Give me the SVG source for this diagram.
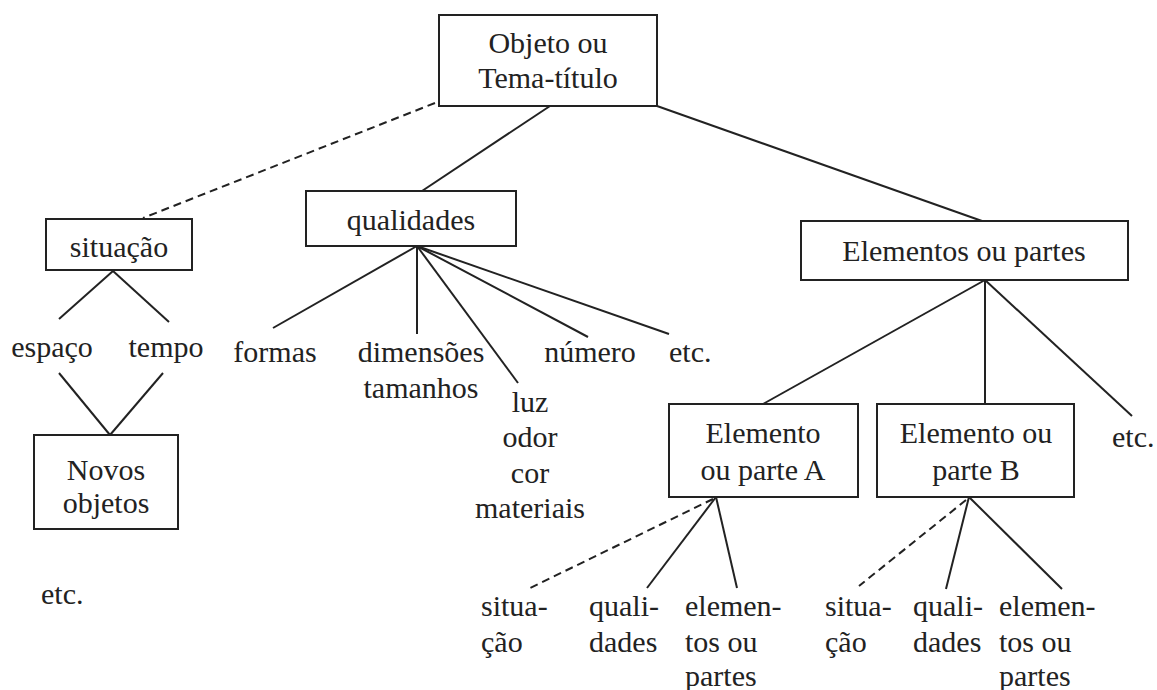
<svg xmlns="http://www.w3.org/2000/svg" width="1157" height="690" viewBox="0 0 1157 690">
<style>
  .box { fill: #ffffff; stroke: #222; stroke-width: 2; }
  .ln { stroke: #222; stroke-width: 2; fill: none; }
  .dash { stroke: #222; stroke-width: 2; fill: none; stroke-dasharray: 8 5; }
  .t { font-family: "Liberation Serif", Tinos, "Noto Serif", FreeSerif, "Nimbus Roman", "DejaVu Serif", serif; font-size: 30px; fill: #222; }
  .c { text-anchor: middle; }
</style>
<rect width="1157" height="690" fill="#ffffff"/>
<g id="connectors">
  <line class="dash" x1="435" y1="103" x2="143" y2="218"/>
  <line class="ln" x1="550" y1="106" x2="422" y2="191"/>
  <line class="ln" x1="657" y1="106" x2="982" y2="221"/>
  <line class="ln" x1="113" y1="271" x2="59" y2="319"/>
  <line class="ln" x1="113" y1="271" x2="169" y2="322"/>
  <line class="ln" x1="59" y1="373" x2="110" y2="435"/>
  <line class="ln" x1="163" y1="373" x2="110" y2="435"/>
  <line class="ln" x1="417" y1="246" x2="273" y2="328"/>
  <line class="ln" x1="417" y1="246" x2="417" y2="334"/>
  <line class="ln" x1="417" y1="246" x2="518" y2="383"/>
  <line class="ln" x1="417" y1="246" x2="588" y2="337"/>
  <line class="ln" x1="417" y1="246" x2="669" y2="334"/>
  <line class="ln" x1="985" y1="280" x2="763" y2="404"/>
  <line class="ln" x1="985" y1="280" x2="985" y2="404"/>
  <line class="ln" x1="985" y1="280" x2="1132" y2="416"/>
  <line class="dash" x1="713" y1="499" x2="528" y2="589"/>
  <line class="ln" x1="716" y1="497" x2="647" y2="588"/>
  <line class="ln" x1="716" y1="497" x2="737" y2="588"/>
  <line class="dash" x1="966" y1="500" x2="859" y2="586"/>
  <line class="ln" x1="969" y1="497" x2="946" y2="589"/>
  <line class="ln" x1="969" y1="497" x2="1062" y2="589"/>
</g>
<g class="t">
<g id="node-tema">
  <rect class="box" x="439" y="15" width="218" height="91"/>
  <text class="c" x="548" y="53">Objeto ou</text>
  <text class="c" x="548" y="88">Tema-título</text>
</g>
<g id="node-situacao">
  <rect class="box" x="46" y="219" width="146" height="51"/>
  <text class="c" x="119" y="257">situação</text>
</g>
<g id="node-qualidades">
  <rect class="box" x="306" y="191" width="210" height="55"/>
  <text class="c" x="411" y="230">qualidades</text>
</g>
<g id="node-elementos">
  <rect class="box" x="801" y="221" width="327" height="59"/>
  <text class="c" x="964" y="261">Elementos ou partes</text>
</g>
<g id="node-espaco"><text class="c" x="52" y="357">espaço</text></g>
<g id="node-tempo"><text class="c" x="166" y="357">tempo</text></g>
<g id="node-novos">
  <rect class="box" x="34" y="435" width="144" height="94"/>
  <text class="c" x="106" y="480">Novos</text>
  <text class="c" x="106" y="513">objetos</text>
</g>
<g id="node-etc-left"><text x="41" y="604">etc.</text></g>
<g id="node-formas"><text class="c" x="275" y="362">formas</text></g>
<g id="node-dimensoes">
  <text class="c" x="421" y="362">dimensões</text>
  <text class="c" x="421" y="398">tamanhos</text>
</g>
<g id="node-luz">
  <text class="c" x="530" y="412">luz</text>
  <text class="c" x="530" y="447">odor</text>
  <text class="c" x="530" y="483">cor</text>
  <text class="c" x="530" y="518">materiais</text>
</g>
<g id="node-numero"><text class="c" x="590" y="362">número</text></g>
<g id="node-etc-qual"><text x="669" y="362">etc.</text></g>
<g id="node-A">
  <rect class="box" x="669" y="404" width="189" height="93"/>
  <text class="c" x="763" y="443">Elemento</text>
  <text class="c" x="763" y="480">ou parte A</text>
</g>
<g id="node-B">
  <rect class="box" x="877" y="404" width="197" height="93"/>
  <text class="c" x="976" y="443">Elemento ou</text>
  <text class="c" x="976" y="480">parte B</text>
</g>
<g id="node-etc-right"><text x="1112" y="447">etc.</text></g>
<g id="node-A-situacao">
  <text x="481" y="616">situa-</text>
  <text x="481" y="652">ção</text>
</g>
<g id="node-A-qualidades">
  <text x="589" y="616">quali-</text>
  <text x="589" y="652">dades</text>
</g>
<g id="node-A-elementos">
  <text x="685" y="616">elemen-</text>
  <text x="685" y="652">tos ou</text>
  <text x="685" y="686">partes</text>
</g>
<g id="node-B-situacao">
  <text x="825" y="616">situa-</text>
  <text x="825" y="652">ção</text>
</g>
<g id="node-B-qualidades">
  <text x="913" y="616">quali-</text>
  <text x="913" y="652">dades</text>
</g>
<g id="node-B-elementos">
  <text x="999" y="616">elemen-</text>
  <text x="999" y="652">tos ou</text>
  <text x="999" y="686">partes</text>
</g>
</g>
</svg>
